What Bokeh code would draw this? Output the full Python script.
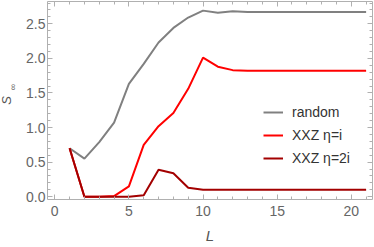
import math
from bokeh.plotting import figure
from bokeh.models import Range1d, FixedTicker, LinearAxis, Legend, LegendItem, Title, CustomJSTickFormatter
from bokeh.embed import file_html
from bokeh.resources import INLINE

L = list(range(1, 22))
random_s = [0.70, 0.55, 0.79, 1.07, 1.63, 1.92, 2.23, 2.44, 2.59, 2.69, 2.66, 2.68,
            2.67, 2.67, 2.67, 2.67, 2.67, 2.67, 2.67, 2.67, 2.67]
xxz_i = [0.70, 0.00, 0.00, 0.01, 0.15, 0.75, 1.02, 1.21, 1.56, 2.01, 1.88, 1.83,
         1.82, 1.82, 1.82, 1.82, 1.82, 1.82, 1.82, 1.82, 1.82]
xxz_2i = [0.70, 0.00, 0.00, 0.00, 0.00, 0.02, 0.39, 0.34, 0.13, 0.10, 0.10, 0.10,
          0.10, 0.10, 0.10, 0.10, 0.10, 0.10, 0.10, 0.10, 0.10]
x_ticks = [0, 5, 10, 15, 20]
y_ticks = [0.0, 0.5, 1.0, 1.5, 2.0, 2.5]
labels = ["random", "XXZ \u03b7=i", "XXZ \u03b7=2i"]
colors = ["#808080", "#ff0000", "#a30000"]

FONT = "Liberation Sans"
FRAME = "#b0b0b0"
TXT = "#666666"
LBL = "#555555"

p = figure(width=374, height=247, output_backend="svg", toolbar_location=None,
           x_range=Range1d(-0.49, 21.43), y_range=Range1d(-0.04, 2.822),
           min_border_left=47, min_border_right=2, min_border_top=1, min_border_bottom=48,
           x_axis_location=None, y_axis_location=None)
p.grid.visible = False
p.outline_line_color = None
p.background_fill_color = "white"

xt = FixedTicker(ticks=x_ticks, minor_ticks=list(range(0, 22)))
yt = FixedTicker(ticks=y_ticks, minor_ticks=[round(0.1 * k, 1) for k in range(0, 29)])

def style(ax, show):
    ax.axis_line_color = FRAME
    ax.major_tick_line_color = FRAME
    ax.minor_tick_line_color = FRAME
    ax.major_tick_in = 5
    ax.major_tick_out = 0
    ax.minor_tick_in = 3
    ax.minor_tick_out = 0
    ax.major_label_text_font = FONT
    if show:
        ax.major_label_text_font_size = "14px"
        ax.major_label_text_color = TXT
    else:
        ax.major_label_text_font_size = "0px"
        ax.major_label_text_color = None
        ax.major_label_standoff = 0

xb = LinearAxis(ticker=xt)
style(xb, True)
xb.major_label_standoff = 6
xb.axis_label = "L"
xb.axis_label_text_font = FONT
xb.axis_label_text_font_style = "italic"
xb.axis_label_text_font_size = "15px"
xb.axis_label_text_color = LBL
xb.axis_label_standoff = 8
p.add_layout(xb, "below")

yl = LinearAxis(ticker=yt, formatter=CustomJSTickFormatter(code="return tick.toFixed(1);"))
style(yl, True)
yl.major_label_standoff = 2
# subscript of the y title, sitting between the tick labels and the "S"
yl.axis_label = "\u2003\u2003\u2003\u221e"
yl.axis_label_text_font = FONT
yl.axis_label_text_font_style = "normal"
yl.axis_label_text_font_size = "9px"
yl.axis_label_text_color = LBL
yl.axis_label_standoff = 5
p.add_layout(yl, "left")

xa = LinearAxis(ticker=xt)
style(xa, False)
p.add_layout(xa, "above")
yr = LinearAxis(ticker=yt)
style(yr, False)
p.add_layout(yr, "right")

p.add_layout(Title(text="S", align="center", vertical_align="bottom", standoff=-16,
                   text_font=FONT, text_font_style="italic", text_font_size="13px",
                   text_color=LBL), "left")

rs = []
for ys, c in zip([random_s, xxz_i, xxz_2i], colors):
    rs.append(p.line(L, ys, line_color=c, line_width=2))

leg = Legend(items=[LegendItem(label=t, renderers=[r]) for t, r in zip(labels, rs)],
             location=(216, 31), padding=0, margin=0, spacing=3,
             glyph_width=20, glyph_height=20, label_height=20, label_standoff=9,
             label_text_font=FONT, label_text_font_size="14px", label_text_color="#333333",
             border_line_color=None, background_fill_alpha=0)
p.add_layout(leg, "center")

open("out.html", "w").write(file_html(p, INLINE))
